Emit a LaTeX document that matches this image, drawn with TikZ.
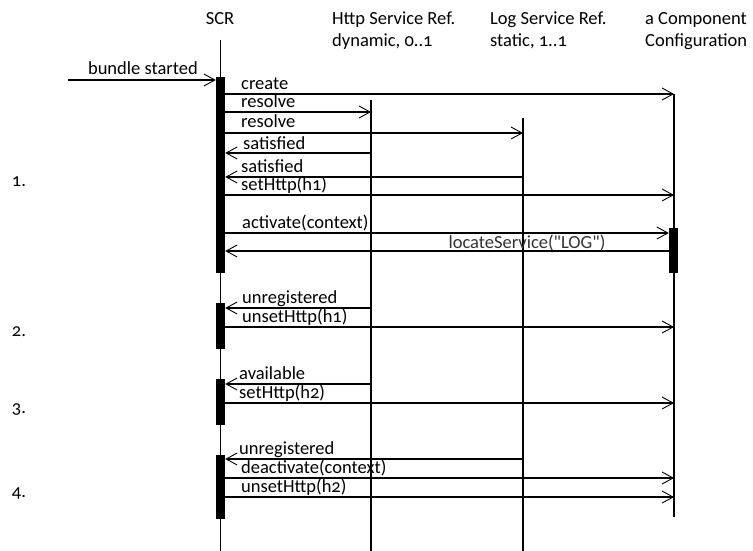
\documentclass[tikz,border=0pt]{standalone}
\usepackage{fontspec}
\setmainfont{Carlito}[Numbers=OldStyle, Ligatures=TeXOff]
\usetikzlibrary{arrows.meta}

\begin{document}
\begin{tikzpicture}[x=1pt, y=-1pt,
  >={Straight Barb[length=11pt,width=12pt,line width=0.9pt]},
  font=\fontsize{18.5}{22}\selectfont,
  lifeline/.style={line width=1.3pt},
  msg/.style={->, line width=1.3pt},
  actbar/.style={fill=black, inner sep=0pt, minimum width=9pt},
  lbl/.style={anchor=base west, inner sep=0pt},
  head/.style={anchor=base west, inner sep=0pt}]
\useasboundingbox (0,0) rectangle (753,551);

% heads
\node[anchor=base, inner sep=0pt] (scrhead) at (220,25) {SCR};
\node[head] (httphead) at (332,25) {Http Service Ref.};
\node[head] (httpkind) at (332,47) {dynamic, 0..1};
\node[head] (loghead) at (490,25) {Log Service Ref.};
\node[head] (logkind) at (490,47) {static, 1..1};
\node[head] (comphead) at (645,25) {a Component};
\node[head] (compkind) at (645,47) {Configuration};

% lifelines
\coordinate (scr) at (220.5,40);
\coordinate (http) at (371,100);
\coordinate (log) at (523,118);
\coordinate (comp) at (674,94);
\draw[lifeline] (scr) -- (scr |- 0,551);
\draw[lifeline] (http) -- (http |- 0,551);
\draw[lifeline] (log) -- (log |- 0,551);
\draw[lifeline] (comp) -- (comp |- 0,517);

% activations
\node[actbar, minimum height=196pt] (bar1) at (220.5,175) {};
\node[actbar, minimum height=46pt] (bar2) at (220.5,326) {};
\node[actbar, minimum height=46pt] (bar3) at (220.5,402) {};
\node[actbar, minimum height=64pt] (bar4) at (220.5,487) {};
\node[actbar, minimum height=45pt] (compbar) at (673.5,250.5) {};

% step numbers
\node (one) at (19,182) {1.};
\node (two) at (19,332) {2.};
\node (three) at (19,410) {3.};
\node (four) at (19,493) {4.};

% messages
\coordinate (start) at (68,80);
\draw[msg] (start) -- (bar1.west |- start);
\node[anchor=base east, inner sep=0pt] (lstart) at (198,75) {bundle started};

\draw[msg] (bar1.east |- 0,94) -- (comp |- 0,94);
\node[lbl] (lcreate) at (241,89) {create};
\draw[msg] (bar1.east |- 0,112) -- (http |- 0,112);
\node[lbl] (lres1) at (241,107) {resolve};
\draw[msg] (bar1.east |- 0,133) -- (log |- 0,133);
\node[lbl] (lres2) at (241,128) {resolve};
\draw[msg] (http |- 0,153) -- (bar1.east |- 0,153);
\node[lbl] (lsat1) at (243,149) {satisfied};
\draw[msg] (log |- 0,177) -- (bar1.east |- 0,177);
\node[lbl] (lsat2) at (241,172) {satisfied};
\draw[msg] (bar1.east |- 0,195) -- (comp |- 0,195);
\node[lbl] (lset1) at (241,190) {setHttp(h1)};
\draw[msg] (bar1.east |- 0,233) -- (compbar.west |- 0,233);
\node[lbl] (lact) at (242,228) {activate(context)};
\draw[msg] (compbar.west |- 0,251) -- (bar1.east |- 0,251);
\node[anchor=base, inner sep=0pt, text=black!80] (lloc) at (527,248) {locateService("LOG")};

\draw[msg] (http |- 0,308) -- (bar2.east |- 0,308);
\node[lbl] (lunreg1) at (242,303) {unregistered};
\draw[msg] (bar2.east |- 0,327) -- (comp |- 0,327);
\node[lbl] (lunset1) at (242,322) {unsetHttp(h1)};

\draw[msg] (http |- 0,384) -- (bar3.east |- 0,384);
\node[lbl] (lavail) at (239,379) {available};
\draw[msg] (bar3.east |- 0,403) -- (comp |- 0,403);
\node[lbl] (lset2) at (239,398) {setHttp(h2)};

\draw[msg] (log |- 0,459) -- (bar4.east |- 0,459);
\node[lbl] (lunreg2) at (239,454) {unregistered};
\draw[msg] (bar4.east |- 0,478) -- (comp |- 0,478);
\node[lbl] (ldeact) at (241,473) {deactivate(context)};
\draw[msg] (bar4.east |- 0,497) -- (comp |- 0,497);
\node[lbl] (lunset2) at (241,492) {unsetHttp(h2)};
\end{tikzpicture}
\end{document}
